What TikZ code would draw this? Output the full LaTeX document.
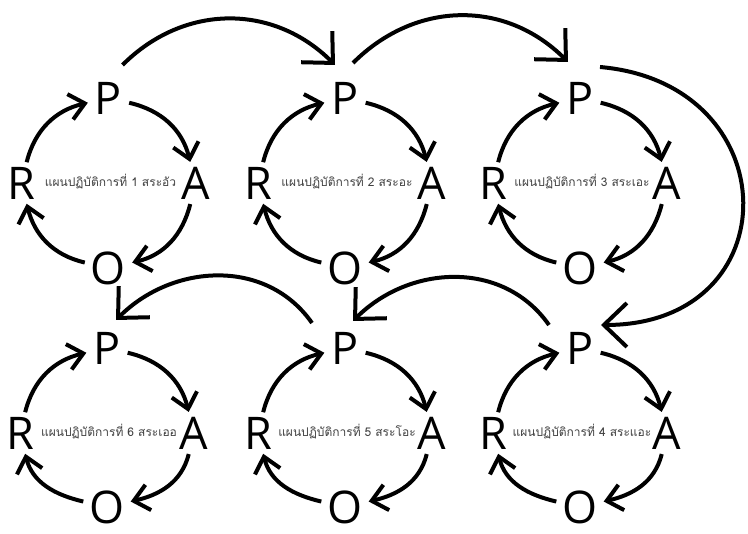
\documentclass[tikz,border=0pt]{standalone}
\usepackage{fontspec}
\setmainfont{Open Sans}
\newfontfamily\thaifont[Script=Thai]{Loma}
\usetikzlibrary{arrows.meta,calc}
\definecolor{labelgray}{HTML}{404040}
\newcommand\mkcycle[5]{%
  \coordinate (C#1) at (#2,#3);
  \node[letter] (P#1) at ($(C#1)+(0,85)$) {P};
  \node[letter] (A#1) at ($(C#1)+(87,0)$) {A};
  \node[letter] (O#1) at ($(C#1)+(0,#4)$) {O};
  \node[letter] (R#1) at ($(C#1)+(-87,0)$) {R};
  \node[lbl] (T#1) at ($(C#1)+(2,1)$) {#5};
  \draw[cyc] (P#1) to[out=-13,in=104] (A#1);
  \draw[cyc] (A#1) to[out=-104,in=13] (O#1);
  \draw[cyc] (O#1) to[out=167,in=-76] (R#1);
  \draw[cyc] (R#1) to[out=76,in=193] (P#1);
}
\begin{document}
\begin{tikzpicture}[x=1pt,y=1pt,
  letter/.style={circle, inner sep=0pt, minimum size=42pt, font=\fontsize{45}{45}\selectfont},
  lbl/.style={font=\thaifont\fontsize{12}{14}\selectfont, text=labelgray, inner sep=0pt},
  cyc/.style={line width=4pt, -{Straight Barb[length=15pt,width=26pt]}},
  jump/.style={line width=4pt, -{Straight Barb[length=23pt,width=44pt]}},
]
\useasboundingbox (0,0) rectangle (748,534);
\mkcycle{1}{108.5}{351}{-85}{แผนปฏิบัติการที่ 1 สระอัว}
\mkcycle{2}{345}{351}{-85}{แผนปฏิบัติการที่ 2 สระอะ}
\mkcycle{3}{580}{351}{-85}{แผนปฏิบัติการที่ 3 สระเอะ}
\mkcycle{4}{580}{101}{-74}{แผนปฏิบัติการที่ 4 สระแอะ}
\mkcycle{5}{345}{101}{-74}{แผนปฏิบัติการที่ 5 สระโอะ}
\mkcycle{6}{107}{101}{-74}{แผนปฏิบัติการที่ 6 สระเออ}
\draw[jump] ($(P1)+(14,33)$) to[out=45,in=135,looseness=1.05] ($(P2)+(-10,33)$);
\draw[jump] ($(P2)+(8,35)$) to[out=45,in=135,looseness=1.05] ($(P3)+(-12,36)$);
\draw[jump] ($(P3)+(20,31)$) to[out=-5,in=0,looseness=1.88] ($(P4)+(21,23)$);
\draw[jump] ($(P4)+(-31,23)$) to[out=125,in=45,looseness=1.04] ($(P5)+(8,27)$);
\draw[jump] ($(P5)+(-33,25)$) to[out=125,in=45,looseness=1.04] ($(P6)+(9,28)$);
\end{tikzpicture}
\end{document}
